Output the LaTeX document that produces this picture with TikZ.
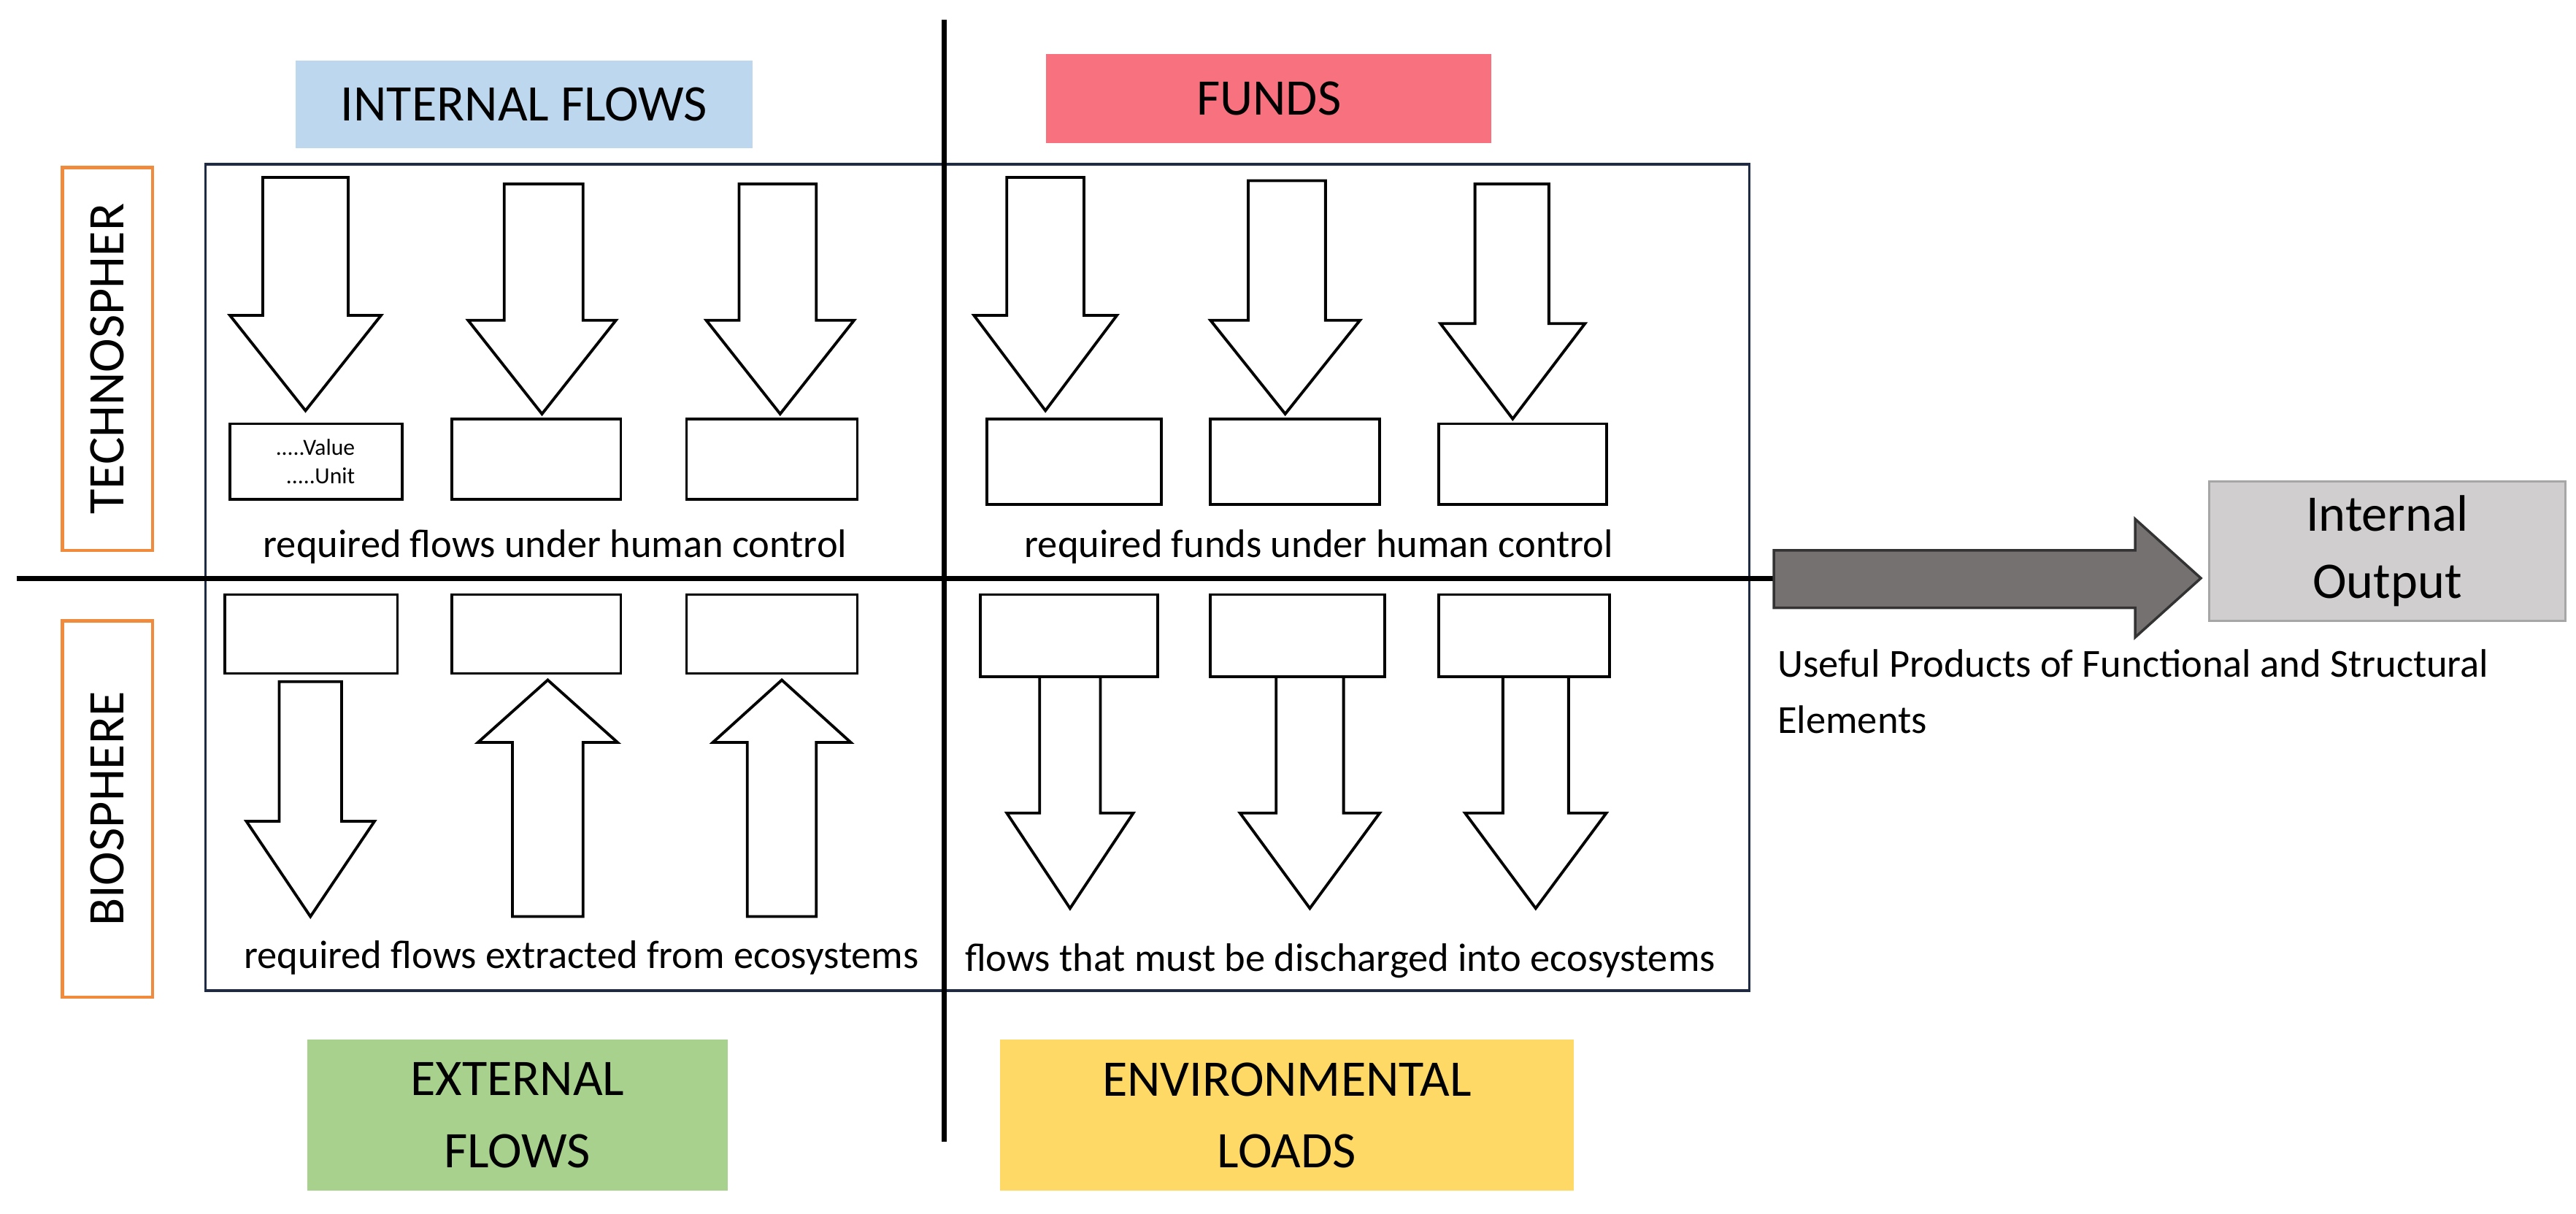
\documentclass[tikz,border=0pt]{standalone}
\usepackage{fontspec}
\setmainfont{Carlito}
\begin{document}
\definecolor{cblue}{HTML}{BDD7EE}
\definecolor{cred}{HTML}{F7727E}
\definecolor{cgreen}{HTML}{A9D18E}
\definecolor{cyel}{HTML}{FFD966}
\definecolor{corange}{HTML}{F08A3C}
\definecolor{cnavy}{HTML}{1F2A44}
\definecolor{cgrey}{HTML}{767171}
\definecolor{cout}{HTML}{D0CECE}
\newcommand\blkarrow[7]{% x1 x2 hx1 hx2 ytop yneck ytip
  \draw[arr] (#1,#5)--(#2,#5)--(#2,#6)--(#4,#6)--({(#3+#4)/2},#7)--(#3,#6)--(#1,#6)--cycle;}
\begin{tikzpicture}[x=0.0225cm,y=-0.0225cm,
  arr/.style={draw=black,line width=1.1pt,fill=white,line join=miter},
  rbox/.style={draw=black,line width=1.1pt,fill=white},
  lab/.style={font=\fontsize{20}{24}\selectfont,align=center,inner sep=0},
  side/.style={draw=corange,line width=1.2pt,fill=white},
  txt/.style={font=\fontsize{15.5}{18}\selectfont,inner sep=0}]
\useasboundingbox (0,0) rectangle (1568.4,738.7);
% main box and axes
\draw[cnavy,line width=1pt] (125,100) rectangle (1065,603);
\coordinate (vt) at (575,12); \coordinate (vb) at (575,695);
\coordinate (hl) at (10,352); \coordinate (hr) at (1080,352);
\draw[line width=2pt] (vt)--(vb);
\draw[line width=2pt] (hl)--(hr);
% category boxes
\node[lab,fill=cblue,minimum width=278*0.0225cm,minimum height=53*0.0225cm] (iflow) at (319,63.5) {INTERNAL FLOWS};
\node[lab,fill=cred,minimum width=271*0.0225cm,minimum height=54*0.0225cm] (funds) at (772.5,60) {FUNDS};
\node[lab,fill=cgreen,minimum width=256*0.0225cm,minimum height=92*0.0225cm] (eflow) at (315,679) {EXTERNAL\\[4pt]FLOWS};
\node[lab,fill=cyel,minimum width=349*0.0225cm,minimum height=92*0.0225cm] (eload) at (783.5,679) {ENVIRONMENTAL\\[4pt]LOADS};
\draw[side] (38,102) rectangle (93,335);
\node[lab,rotate=90] (tech) at (65.5,218.5) {TECHNOSPHER};
\draw[side] (38,378) rectangle (93,607);
\node[lab,rotate=90] (bio) at (65.5,492.5) {BIOSPHERE};
% top-left
\blkarrow{160}{212}{140}{232}{108}{192}{250}
\blkarrow{307}{355}{285}{375}{112}{195}{252}
\blkarrow{450}{497}{430}{520}{112}{195}{252}
\draw[rbox] (140,258) rectangle (245,304);
\node[font=\fontsize{9}{11}\selectfont,align=right,inner sep=0] (vu) at (192,281) {.....Value\\.....Unit};
\draw[rbox] (275,255) rectangle (378,304);
\draw[rbox] (418,255) rectangle (522,304);
\node[txt] (t1) at (338,333) {required flows under human control};
% top-right
\blkarrow{613}{660}{593}{680}{108}{192}{250}
\blkarrow{760}{807}{737}{828}{110}{195}{252}
\blkarrow{898}{943}{877}{965}{112}{197}{255}
\draw[rbox] (601,255) rectangle (707,307);
\draw[rbox] (737,255) rectangle (840,307);
\draw[rbox] (876,258) rectangle (978,307);
\node[txt] (t2) at (803,333) {required funds under human control};
% bottom-left
\draw[rbox] (137,362) rectangle (242,410);
\draw[rbox] (275,362) rectangle (378,410);
\draw[rbox] (418,362) rectangle (522,410);
\blkarrow{170}{208}{150}{228}{415}{500}{558}
\blkarrow{312}{355}{291}{376}{558}{452}{414}
\blkarrow{455}{497}{434}{518}{558}{452}{414}
\node[txt] (t3) at (354,583) {required flows extracted from ecosystems};
% bottom-right
\draw[rbox] (597,362) rectangle (705,412);
\draw[rbox] (737,362) rectangle (843,412);
\draw[rbox] (876,362) rectangle (980,412);
\blkarrow{633}{670}{613}{690}{412}{495}{553}
\blkarrow{777}{818}{755}{840}{412}{495}{553}
\blkarrow{915}{955}{892}{978}{412}{495}{553}
\node[txt] (t4) at (816,585) {flows that must be discharged into ecosystems};
% output
\node[lab,draw=gray!70,fill=cout,minimum width=217*0.0225cm,minimum height=85*0.0225cm,line width=0.8pt] (out) at (1453.5,335.5) {Internal\\[2pt]Output};
\draw[draw=black!80,fill=cgrey,line width=1pt,line join=miter] (1080,335)--(1300,335)--(1300,316)--(1340,352)--(1300,388)--(1300,370)--(1080,370)--cycle;
\node[txt,anchor=west,align=left] (use) at (1082,421) {Useful Products of Functional and Structural\\[4pt]Elements};
\end{tikzpicture}
\end{document}
